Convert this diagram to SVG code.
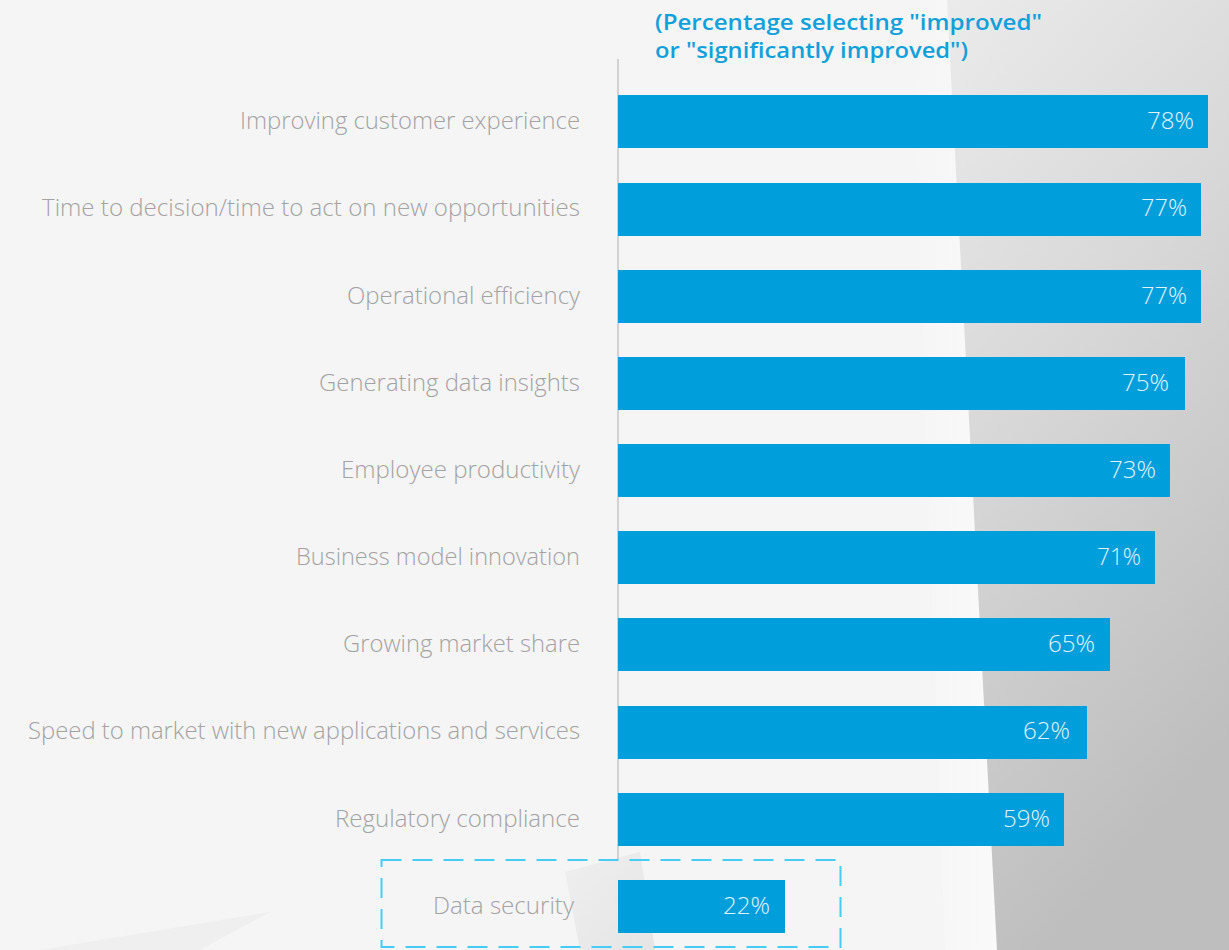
<svg xmlns="http://www.w3.org/2000/svg" width="1229" height="950" viewBox="0 0 1229 950">
  <defs>
    <linearGradient id="bgRight" x1="0" y1="0" x2="0.35" y2="1">
      <stop offset="0" stop-color="#ebebeb"/>
      <stop offset="0.45" stop-color="#d8d8d8"/>
      <stop offset="1" stop-color="#bebebe"/>
    </linearGradient>
    <linearGradient id="strip" x1="0" y1="0" x2="1" y2="0">
      <stop offset="0" stop-color="#f5f5f5"/>
      <stop offset="1" stop-color="#fdfdfd"/>
    </linearGradient>
    <linearGradient id="bottomShape" x1="0" y1="0" x2="1" y2="1">
      <stop offset="0" stop-color="#ebebeb"/>
      <stop offset="1" stop-color="#dadada"/>
    </linearGradient>
    <style>
      .label { font-family: "Open Sans", "Liberation Sans", sans-serif; font-weight: 300; font-size: 23px; fill: #a3a3a3; text-anchor: end; }
      .value { font-family: "Open Sans", "Liberation Sans", sans-serif; font-weight: 300; font-size: 23px; fill: #e4f3fb; text-anchor: end; }
      .title { font-family: "Open Sans", "Liberation Sans", sans-serif; font-weight: 600; font-size: 22px; fill: #12a0da; }
      .bar { fill: #009fdb; }
    </style>
  </defs>

  <!-- background -->
  <g id="background">
    <rect x="0" y="0" width="1229" height="950" fill="#f5f5f5"/>
    <polygon points="910,0 947,0 997,950 945,950" fill="url(#strip)" opacity="0.6"/>
    <polygon points="947,0 1229,0 1229,950 997,950" fill="url(#bgRight)"/>
    <polygon points="565,872 640,852 655,950 580,950" fill="url(#bottomShape)" opacity="0.6"/>
    <polygon points="40,950 270,912 200,950" fill="#eeeeee" opacity="0.8"/>
  </g>

  <!-- title -->
  <g id="title">
    <text class="title" x="655" y="30" textLength="387" lengthAdjust="spacingAndGlyphs">(Percentage selecting "improved"</text>
    <text class="title" x="655" y="58" textLength="313" lengthAdjust="spacingAndGlyphs">or "significantly improved")</text>
  </g>

  <!-- axis -->
  <g id="axis">
    <line x1="618" y1="59" x2="618" y2="860" stroke="#d2d2d2" stroke-width="2"/>
  </g>

  <g id="row1">
    <text class="label" x="580" y="129" textLength="340" lengthAdjust="spacingAndGlyphs">Improving customer experience</text>
    <rect class="bar" x="618" y="95" width="590" height="53"/>
    <text class="value" x="1194" y="129" textLength="47" lengthAdjust="spacingAndGlyphs">78%</text>
  </g>
  <g id="row2">
    <text class="label" x="580" y="216" textLength="538" lengthAdjust="spacingAndGlyphs">Time to decision/time to act on new opportunities</text>
    <rect class="bar" x="618" y="183" width="583" height="53"/>
    <text class="value" x="1187" y="216" textLength="46" lengthAdjust="spacingAndGlyphs">77%</text>
  </g>
  <g id="row3">
    <text class="label" x="580" y="304" textLength="233" lengthAdjust="spacingAndGlyphs">Operational efficiency</text>
    <rect class="bar" x="618" y="270" width="583" height="53"/>
    <text class="value" x="1187" y="304" textLength="46" lengthAdjust="spacingAndGlyphs">77%</text>
  </g>
  <g id="row4">
    <text class="label" x="580" y="391" textLength="261" lengthAdjust="spacingAndGlyphs">Generating data insights</text>
    <rect class="bar" x="618" y="357" width="567" height="53"/>
    <text class="value" x="1169" y="391" textLength="47" lengthAdjust="spacingAndGlyphs">75%</text>
  </g>
  <g id="row5">
    <text class="label" x="580" y="478" textLength="239" lengthAdjust="spacingAndGlyphs">Employee productivity</text>
    <rect class="bar" x="618" y="444" width="552" height="53"/>
    <text class="value" x="1156" y="478" textLength="47" lengthAdjust="spacingAndGlyphs">73%</text>
  </g>
  <g id="row6">
    <text class="label" x="580" y="565" textLength="284" lengthAdjust="spacingAndGlyphs">Business model innovation</text>
    <rect class="bar" x="618" y="531" width="537" height="53"/>
    <text class="value" x="1141" y="565" textLength="44" lengthAdjust="spacingAndGlyphs">71%</text>
  </g>
  <g id="row7">
    <text class="label" x="580" y="652" textLength="237" lengthAdjust="spacingAndGlyphs">Growing market share</text>
    <rect class="bar" x="618" y="618" width="492" height="53"/>
    <text class="value" x="1095" y="652" textLength="47" lengthAdjust="spacingAndGlyphs">65%</text>
  </g>
  <g id="row8">
    <text class="label" x="580" y="739" textLength="552" lengthAdjust="spacingAndGlyphs">Speed to market with new applications and services</text>
    <rect class="bar" x="618" y="706" width="469" height="53"/>
    <text class="value" x="1070" y="739" textLength="47" lengthAdjust="spacingAndGlyphs">62%</text>
  </g>
  <g id="row9">
    <text class="label" x="580" y="827" textLength="245" lengthAdjust="spacingAndGlyphs">Regulatory compliance</text>
    <rect class="bar" x="618" y="793" width="446" height="53"/>
    <text class="value" x="1050" y="827" textLength="47" lengthAdjust="spacingAndGlyphs">59%</text>
  </g>
  <g id="row10">
    <rect x="381.5" y="860" width="459" height="87" fill="none" stroke="#45cdf5" stroke-width="2" stroke-dasharray="20 11"/>
    <text class="label" x="574" y="914" textLength="141" lengthAdjust="spacingAndGlyphs">Data security</text>
    <rect class="bar" x="618" y="880" width="167" height="53"/>
    <text class="value" x="770" y="914" textLength="47" lengthAdjust="spacingAndGlyphs">22%</text>
  </g>
</svg>
